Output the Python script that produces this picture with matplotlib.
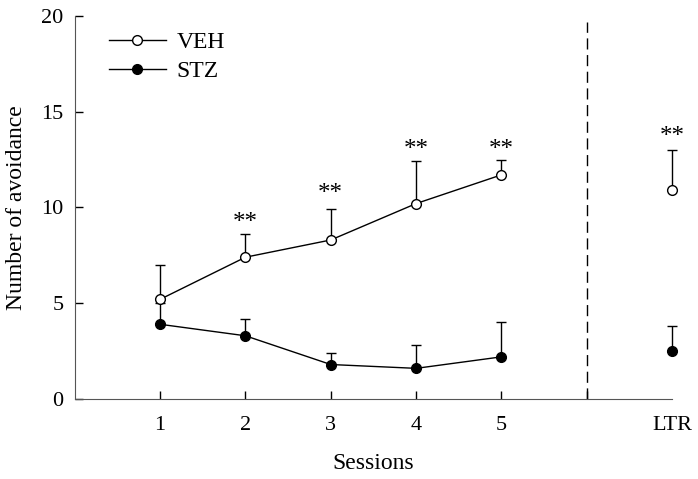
import matplotlib.pyplot as plt
from matplotlib.lines import Line2D
import numpy as np

plt.rcParams['font.family'] = ['Liberation Serif', 'DejaVu Serif']

sessions = [1, 2, 3, 4, 5]
ltr_x = 7
tick_labels = ['1', '2', '3', '4', '5', 'LTR']

veh_mean = [5.2, 7.4, 8.3, 10.2, 11.7]
veh_err = [1.8, 1.2, 1.6, 2.2, 0.8]
veh_ltr = 10.9
veh_ltr_err = 2.1

stz_mean = [3.9, 3.3, 1.8, 1.6, 2.2]
stz_err = [1.1, 0.9, 0.6, 1.2, 1.8]
stz_ltr = 2.5
stz_ltr_err = 1.3

star_x = [2, 3, 4, 5, 7]
star_y = [9.2, 10.7, 13.0, 13.0, 13.7]

fig, ax = plt.subplots(figsize=(6.98, 4.79), dpi=100)
fig.subplots_adjust(left=0.107, right=0.963, top=0.967, bottom=0.167)

kw = dict(color='black', lw=1, capsize=3.5, capthick=1, elinewidth=1, ms=7,
          clip_on=False)
ax.errorbar(sessions, veh_mean, yerr=[np.zeros(5), veh_err], fmt='-o',
            mfc='white', mec='black', zorder=3, **kw)
ax.errorbar(sessions, stz_mean, yerr=[np.zeros(5), stz_err], fmt='-o',
            mfc='black', mec='black', zorder=2, **kw)
ax.errorbar([ltr_x], [veh_ltr], yerr=[[0], [veh_ltr_err]], fmt='o',
            mfc='white', mec='black', zorder=3, **kw)
ax.errorbar([ltr_x], [stz_ltr], yerr=[[0], [stz_ltr_err]], fmt='o',
            mfc='black', mec='black', zorder=2, **kw)

for x, y in zip(star_x, star_y):
    ax.text(x, y, '**', ha='center', va='center', fontsize=18)

ax.plot([6, 6], [0, 19.7], color='black', lw=1, dashes=(8, 4))

ax.set_xlim(0, 7)
ax.set_ylim(0, 20)
ax.set_xticks([1, 2, 3, 4, 5, 6, 7])
ax.set_xticklabels(tick_labels[:5] + [''] + [tick_labels[5]])
ax.set_yticks([0, 5, 10, 15, 20])
ax.tick_params(direction='in', length=6, width=1, labelsize=16)
ax.tick_params(axis='x', pad=12)
ax.tick_params(axis='y', pad=8)
ax.xaxis.get_major_ticks()[6].tick1line.set_visible(False)
for s in ['top', 'right']:
    ax.spines[s].set_visible(False)
ax.spines['left'].set_color('#555555')
ax.spines['bottom'].set_color('#555555')

ax.set_xlabel('Sessions', fontsize=17, labelpad=13.5)
ax.set_ylabel('Number of avoidance', fontsize=17, labelpad=10)

handles = [
    Line2D([], [], color='black', lw=1, marker='o', ms=7, mfc='white', mec='black'),
    Line2D([], [], color='black', lw=1, marker='o', ms=7, mfc='black', mec='black'),
]
ax.legend(handles, ['VEH', 'STZ'], loc='upper left', bbox_to_anchor=(0.022, 1.014),
          frameon=False, fontsize=17, handlelength=2.4, handletextpad=0.45,
          labelspacing=0.3)

fig.savefig('out.png')
